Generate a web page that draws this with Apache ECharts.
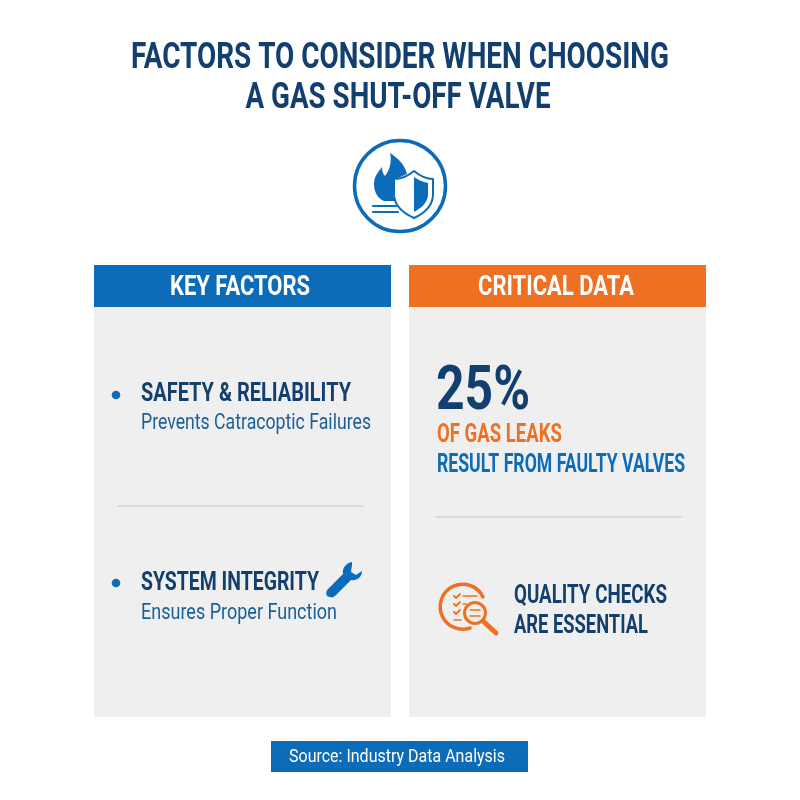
<!DOCTYPE html>
<html>
<head>
<meta charset="utf-8">
<style>
  html, body { margin: 0; padding: 0; background: #fff; }
  #chart { width: 800px; height: 800px; }
</style>
<script src="https://cdn.jsdelivr.net/npm/echarts@6/dist/echarts.min.js"></script>
</head>
<body>
<div id="chart"></div>
<script>
var titleLines = ["FACTORS TO CONSIDER WHEN CHOOSING", "A GAS SHUT-OFF VALVE"];
var panelTitles = ["KEY FACTORS", "CRITICAL DATA"];
var factorNames = ["SAFETY & RELIABILITY", "SYSTEM INTEGRITY"];
var factorNotes = ["Prevents Catracoptic Failures", "Ensures Proper Function"];
var statValue = "25%";
var statLines = ["OF GAS LEAKS", "RESULT FROM FAULTY VALVES"];
var checkLines = ["QUALITY CHECKS", "ARE ESSENTIAL"];
var sourceText = "Source: Industry Data Analysis";

var navy = "#123f6d";
var blue = "#0c6cb9";
var orange = "#ee7023";
var panelBg = "#efefef";
var font = 'Roboto, "Liberation Sans", sans-serif';
var ctx = document.createElement("canvas").getContext("2d");

// 文字，w为目标宽度，横向压缩到这个宽度
function label(text, x, y, size, color, w, opt) {
  opt = opt || {};
  var weight = opt.weight || "bold";
  ctx.font = weight + " " + size + "px " + font;
  return {
    type: "text",
    x: x,
    y: y,
    scaleX: w / ctx.measureText(text).width,
    style: {
      text: text,
      fill: color,
      fontFamily: font,
      fontSize: size,
      fontWeight: weight,
      textAlign: opt.align || "left",
      textVerticalAlign: "middle",
    },
  };
}
function box(x, y, w, h, color) {
  return { type: "rect", shape: { x: x, y: y, width: w, height: h }, style: { fill: color } };
}
function line(x1, y1, x2, y2, color, width) {
  return {
    type: "line",
    shape: { x1: x1, y1: y1, x2: x2, y2: y2 },
    style: { stroke: color, lineWidth: width, lineCap: "round" },
  };
}
// 图标路径要先注册成形状
var shapeCount = 0;
function path(d, fill, stroke, width) {
  var name = "iconShape" + shapeCount++;
  echarts.graphic.registerShape(name, echarts.graphic.extendPath(d, {}));
  return {
    type: name,
    style: { fill: fill || "none", stroke: stroke || "none", lineWidth: width || 0, lineCap: "round", lineJoin: "round" },
  };
}

var els = [];

// 标题
els.push(label(titleLines[0], 400, 59, 37, navy, 538, { align: "center" }));
els.push(label(titleLines[1], 398, 99, 37, navy, 305, { align: "center" }));

// 火焰+盾牌图标
els.push({
  type: "circle",
  shape: { cx: 400, cy: 186, r: 45.5 },
  style: { fill: "#fff", stroke: blue, lineWidth: 3.5 },
});
els.push(path("M390 153 C398 158 405 165 407 174 L393 180 L393 196 L396 201 L384 201 C377 198 374 191 374 184 C374 177 378 172 382 167 C382 171 383 174 385 176 C390 170 392 161 390 153 Z", blue));
els.push(line(373, 206, 396, 206, blue, 2.2));
els.push(line(373, 212, 398, 212, blue, 2.2));
els.push(path("M414 171 C408 176 401 179 394 179 L394 194 C394 205 403 213 414 218 C425 213 433 205 433 194 L433 179 C426 179 420 176 414 171 Z", "#fff", blue, 2));
els.push(path("M414 177 C418 180 423 182 428 183 L428 194 C428 203 421 208 414 212 Z", blue));

// 左右面板
els.push(box(94, 265, 297, 452, panelBg));
els.push(box(94, 265, 297, 42, blue));
els.push(label(panelTitles[0], 240, 288, 28, "#fff", 140, { align: "center" }));
els.push(box(409, 265, 297, 452, panelBg));
els.push(box(409, 265, 297, 42, orange));
els.push(label(panelTitles[1], 556, 288, 28, "#fff", 156, { align: "center" }));

// 关键因素
var nameWidths = [210, 178];
var noteWidths = [230, 196];
var bulletYs = [395, 583];
var nameYs = [394.5, 583.5];
var noteYs = [423, 613];
factorNames.forEach(function (name, i) {
  els.push({ type: "circle", shape: { cx: 116, cy: bulletYs[i], r: 4.3 }, style: { fill: blue } });
  els.push(label(name, 141, nameYs[i], 26, navy, nameWidths[i]));
  els.push(label(factorNotes[i], 141, noteYs[i], 22, "#1b5f99", noteWidths[i], { weight: "normal" }));
});
els.push(line(118, 506, 363, 506, "#cfd2d4", 1.5));

// 扳手
els.push(path("M352 562 C346 563 342 568 343 574 L328 589 C325 592 326 597 330 597 C332 598 334 597 336 595 L351 580 C357 581 362 577 362 571 L356 575 L351 572 L352 565 Z", blue));

// 数据
els.push(label(statValue, 436, 393, 62, navy, 94));
els.push(label(statLines[0], 437, 435.5, 26, orange, 125));
els.push(label(statLines[1], 437, 465, 26, blue, 248));
els.push(line(436, 517, 681, 517, "#cfd2d4", 1.5));

// 质量检查
els.push(path("M483 597 A22.5 22.5 0 1 0 470 628", null, orange, 3.5));
els.push({ type: "circle", shape: { cx: 475, cy: 613, r: 10.5 }, style: { fill: panelBg, stroke: orange, lineWidth: 3 } });
els.push(line(483, 621, 496, 633, orange, 5));
els.push(line(470, 610, 480, 610, orange, 1.5));
els.push(line(470, 616, 480, 616, orange, 1.5));
[596, 604, 612].forEach(function (y) {
  els.push(path("M454 " + y + " l2 2 l4 -4", null, orange, 1.8));
});
els.push(line(463, 596, 477, 596, orange, 1.5));
els.push(line(463, 604, 466, 604, orange, 1.5));
els.push(line(454, 620, 461, 620, orange, 1.5));
els.push(label(checkLines[0], 514, 596, 26, navy, 153));
els.push(label(checkLines[1], 514, 626, 26, navy, 134));

// 来源
els.push(box(271, 741, 257, 31, blue));
els.push(label(sourceText, 397, 757, 19, "#fff", 216, { align: "center", weight: "normal" }));

var mychart = echarts.init(document.getElementById("chart"), null, { renderer: "canvas" });
mychart.setOption({
  backgroundColor: "#ffffff",
  animation: false,
  graphic: { elements: els },
});
</script>
</body>
</html>
